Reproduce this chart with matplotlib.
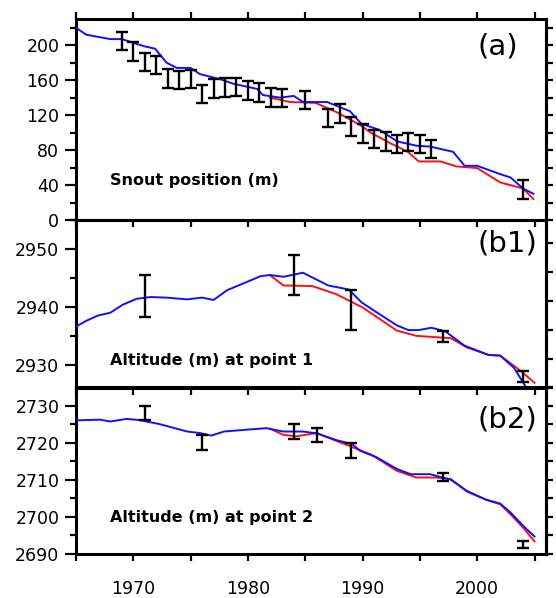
import numpy as np
import matplotlib
matplotlib.use("Agg")
import matplotlib.pyplot as plt

plt.rcParams['font.family'] = ['DejaVu Sans']

##### DATA #####
# panel (a): snout position (m)
a_blue_yr = [1965, 1965.9, 1968, 1969, 1970.9, 1971.9, 1972.9, 1973.8, 1975, 1975.8, 1977.6,
             1978.7, 1980.8, 1981.3, 1982.8, 1984, 1984.8, 1986.9, 1988.9, 1989.9, 1991.5,
             1993, 1994.7, 1995.9, 1997.9, 1998.9, 2000, 2002, 2002.9, 2004, 2004.9]
a_blue = [220, 212, 207, 207, 199, 196, 180, 174, 174, 167, 161,
          156, 150, 143, 140, 142, 135, 135, 124.5, 110, 103,
          90, 85, 84, 78, 62, 62, 52.5, 48.7, 36, 30]
a_red_yr = [1981.9, 1983.7, 1985.9, 1987.8, 1988.9, 1989.8, 1990.7, 1992.4, 1993.9, 1994.9,
            1996.8, 1998.2, 2000, 2002, 2004, 2004.9]
a_red = [140, 135, 134, 123, 115, 108.5, 100, 88, 78.5, 67,
         67, 61.3, 59.4, 43, 36, 24]
a_obs_yr = [1969, 1970, 1971, 1972, 1973, 1974, 1975, 1976, 1977, 1978, 1979, 1980, 1981,
            1982, 1983, 1985, 1987, 1988, 1989, 1990, 1991, 1992, 1993, 1994, 1995, 1996, 2004]
a_obs = [204.5, 193, 181, 177.6, 162, 160, 161.5, 144.5, 150.5, 151.7, 152, 148, 146,
         140, 139.5, 137, 117, 122, 107, 99, 93, 90, 86.6, 89, 87, 81.5, 35]
a_err = [10.5] * len(a_obs)

# panel (b1): altitude at point 1
b1_blue_yr = [1965, 1965.9, 1966.9, 1968, 1969.1, 1970.3, 1971.5, 1972.9, 1974.7, 1976, 1977,
              1978.2, 1979.9, 1981.1, 1981.9, 1983.1, 1984.8, 1987, 1988.8, 1989.9, 1991.2,
              1993, 1994, 1994.9, 1996, 1997.2, 1998.9, 2001, 2002, 2003.2, 2004.3]
b1_blue = [2936.6, 2937.6, 2938.5, 2939.0, 2940.4, 2941.4, 2941.7, 2941.6, 2941.3, 2941.6, 2941.2,
           2942.9, 2944.3, 2945.3, 2945.5, 2945.2, 2945.9, 2943.7, 2943.0, 2940.8, 2939.1,
           2936.8, 2936.0, 2936.0, 2936.4, 2935.8, 2933.3, 2931.7, 2931.6, 2929.5, 2926.0]
b1_red_yr = [1981.9, 1983.1, 1985.6, 1987.7, 1990, 1993, 1994.7, 1997.7, 1999.1, 2001, 2002,
             2003.7, 2005]
b1_red = [2945.5, 2943.7, 2943.6, 2942.2, 2939.9, 2935.9, 2935.0, 2934.6, 2933.0, 2931.7, 2931.6,
          2929.1, 2926.9]
b1_obs_yr = [1971, 1984, 1989, 1997, 2004]
b1_obs = [2941.9, 2945.5, 2939.5, 2934.9, 2928.0]
b1_err = [3.6, 3.5, 3.5, 1.0, 1.0]

# panel (b2): altitude at point 2
b2_blue_yr = [1965, 1967.1, 1968, 1969.4, 1970.5, 1972.3, 1974.7, 1975.8, 1976.8, 1977.9, 1979.9,
              1981.6, 1983.1, 1984.8, 1986, 1987.7, 1989.1, 1989.8, 1991.2, 1993, 1994.2,
              1995.9, 1997.7, 1999.1, 2000.8, 2002, 2002.9, 2004, 2005]
b2_blue = [2726.0, 2726.2, 2725.7, 2726.4, 2726.1, 2725.0, 2723.0, 2722.6, 2721.9, 2723.0, 2723.5,
           2723.9, 2723.0, 2723.0, 2722.5, 2720.7, 2719.6, 2717.8, 2716.1, 2712.9, 2711.5,
           2711.5, 2710.0, 2707.0, 2704.6, 2703.6, 2701.2, 2697.6, 2694.7]
b2_red_yr = [1981.9, 1983.1, 1984.2, 1986, 1987.7, 1989.1, 1990.8, 1993, 1994.7, 1996.5, 1997.7,
             1999.1, 2000.8, 2002, 2002.9, 2004, 2005]
b2_red = [2723.8, 2722.1, 2721.7, 2722.6, 2720.5, 2718.8, 2716.7, 2712.4, 2710.6, 2710.6, 2710.2,
          2706.8, 2704.6, 2703.4, 2700.7, 2697.1, 2693.4]
b2_obs_yr = [1971, 1976, 1984, 1986, 1989, 1997, 2004]
b2_obs = [2728.0, 2720.0, 2723.0, 2722.0, 2718.0, 2710.7, 2692.6]
b2_err = [2.0, 2.0, 2.1, 1.9, 2.0, 1.0, 0.9]

year_ticks = list(range(1965, 2006, 5))
year_labels = ['1970', '1980', '1990', '2000']


def style_panel(ax, ylim, major, minor, right_step, top=False, xlabels=False):
    ax.set_facecolor('none')
    ax.set_xlim(1965, 2006)
    ax.set_ylim(*ylim)
    for s in ax.spines.values():
        s.set_linewidth(2.2)
    ax.set_yticks(major)
    ax.set_yticks(minor, minor=True)
    ax.tick_params(axis='y', which='major', direction='out', length=8, width=1.6,
                   labelsize=12.5, pad=4, right=False)
    ax.tick_params(axis='y', which='minor', direction='out', length=4.5, width=1.6, right=False)
    ax.set_xticks(year_ticks)
    ax.set_xticklabels([str(y) if str(y) in year_labels else '' for y in year_ticks])
    ax.tick_params(axis='x', direction='out', length=5, width=1.6, top=top,
                   labelbottom=xlabels, labelsize=12.5, pad=14)
    sec = ax.secondary_yaxis('right')
    sec.set_yticks(np.arange(ylim[0], ylim[1] + 0.1, right_step))
    sec.tick_params(direction='out', length=5, width=1.6, labelright=False)
    sec.spines['right'].set_linewidth(2.2)


fig = plt.figure(figsize=(5.56, 5.98), dpi=100)
W, H = 556, 598
x0, x1 = 76 / W, 546 / W
ax_a = fig.add_axes([x0, 1 - 220 / H, x1 - x0, 201 / H])
ax_b1 = fig.add_axes([x0, 1 - 388 / H, x1 - x0, 168 / H])
ax_b2 = fig.add_axes([x0, 1 - 554 / H, x1 - x0, 167 / H])

panels = [
    (ax_a, a_blue_yr, a_blue, a_red_yr, a_red, a_obs_yr, a_obs, a_err, '(a)', 'Snout position (m)'),
    (ax_b1, b1_blue_yr, b1_blue, b1_red_yr, b1_red, b1_obs_yr, b1_obs, b1_err, '(b1)',
     'Altitude (m) at point 1'),
    (ax_b2, b2_blue_yr, b2_blue, b2_red_yr, b2_red, b2_obs_yr, b2_obs, b2_err, '(b2)',
     'Altitude (m) at point 2'),
]

for ax, bx, by, rx, ry, ox, oy, oe, tag, label in panels:
    ax.plot(rx, ry, color='#ff1010', lw=1.4, zorder=3)
    ax.plot(bx, by, color='#1010ff', lw=1.4, zorder=4)
    ax.errorbar(ox, oy, yerr=oe, fmt='none', ecolor='black', elinewidth=1.7,
                capsize=4, capthick=1.7, zorder=5)

style_panel(ax_a, (0, 230), np.arange(0, 201, 40), np.arange(20, 230, 40), 20, top=True)
style_panel(ax_b1, (2926, 2955), [2930, 2940, 2950], [2935, 2945, 2955], 5)
style_panel(ax_b2, (2690, 2735), np.arange(2690, 2731, 10), np.arange(2695, 2735, 10), 5,
            xlabels=True)

# panel tags and captions
ax_a.text(2000, 199, '(a)', fontsize=21, va='center', ha='left')
ax_a.text(1968, 40, 'Snout position (m)', fontsize=11.5, fontweight='bold', va='baseline')
ax_b1.text(2000, 2950.9, '(b1)', fontsize=21, va='center', ha='left')
ax_b1.text(1968, 2930, 'Altitude (m) at point 1', fontsize=11.5, fontweight='bold', va='baseline')
ax_b2.text(2000, 2726.3, '(b2)', fontsize=21, va='center', ha='left')
ax_b2.text(1968, 2698.7, 'Altitude (m) at point 2', fontsize=11.5, fontweight='bold', va='baseline')

fig.savefig('out.png', dpi=100)
